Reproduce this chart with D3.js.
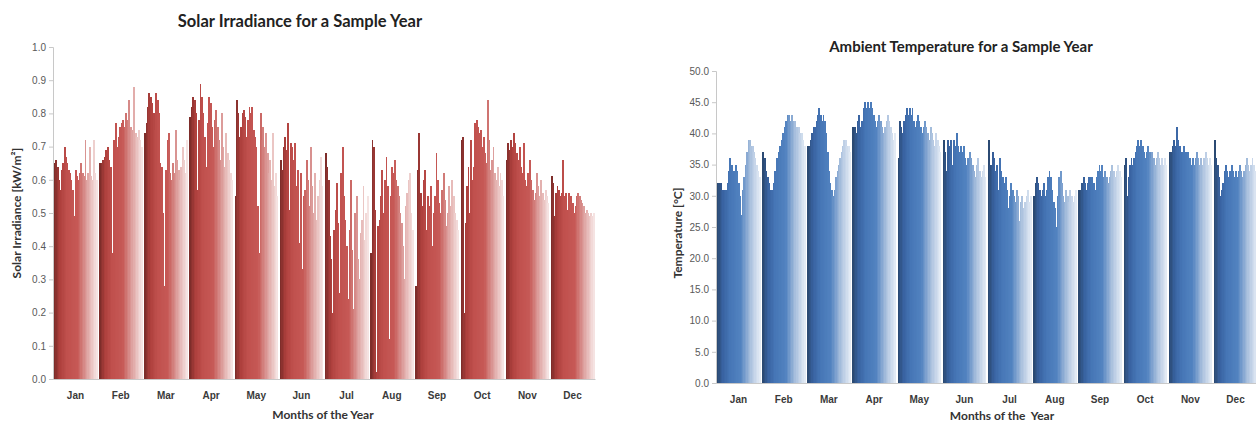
<!DOCTYPE html>
<html>
<head>
<meta charset="utf-8">
<script src="https://cdn.jsdelivr.net/npm/d3@7"></script>
<style>
  body { margin: 0; background: #fff; }
  svg { display: block; font-family: "Lato", "Open Sans", sans-serif; }
  .tick text { fill: #595959; }
  .month rect { shape-rendering: crispEdges; }
</style>
</head>
<body>
<svg id="chart" width="1256" height="425"></svg>
<script>
var months = ["Jan", "Feb", "Mar", "Apr", "May", "Jun", "Jul", "Aug", "Sep", "Oct", "Nov", "Dec"];

// daily solar irradiance, kW/m2
var solarJan = [0.65,0.66,0.64,0.60,0.57,0.63,0.65,0.70,0.67,0.65,0.63,0.62,0.60,0.57,0.49,0.63,0.61,0.60,0.62,0.65,0.62,0.61,0.72,0.60,0.62,0.70,0.61,0.60,0.72,0.62,0.60];
var solarFeb = [0.65,0.65,0.66,0.67,0.69,0.70,0.66,0.64,0.38,0.72,0.77,0.70,0.73,0.76,0.77,0.78,0.76,0.80,0.78,0.84,0.76,0.75,0.88,0.74,0.73,0.75,0.72,0.70];
var solarMar = [0.74,0.77,0.82,0.86,0.85,0.83,0.80,0.75,0.86,0.84,0.80,0.65,0.64,0.50,0.28,0.63,0.72,0.74,0.62,0.60,0.65,0.62,0.75,0.66,0.63,0.60,0.64,0.70,0.66,0.62,0.72];
var solarApr = [0.79,0.82,0.85,0.84,0.80,0.57,0.78,0.89,0.85,0.80,0.73,0.64,0.77,0.85,0.83,0.76,0.70,0.78,0.81,0.76,0.72,0.66,0.80,0.70,0.64,0.74,0.68,0.66,0.62,0.60];
var solarMay = [0.55,0.84,0.80,0.73,0.76,0.80,0.81,0.79,0.73,0.78,0.82,0.80,0.82,0.75,0.73,0.70,0.52,0.38,0.80,0.72,0.76,0.70,0.74,0.68,0.62,0.66,0.60,0.74,0.58,0.62,0.55];
var solarJun = [0.66,0.63,0.70,0.73,0.69,0.77,0.51,0.71,0.70,0.66,0.71,0.58,0.63,0.41,0.62,0.33,0.55,0.57,0.66,0.60,0.52,0.70,0.58,0.50,0.62,0.48,0.55,0.60,0.67,0.58];
var solarJul = [0.68,0.64,0.60,0.43,0.36,0.20,0.45,0.51,0.59,0.47,0.26,0.62,0.70,0.55,0.48,0.40,0.24,0.45,0.60,0.39,0.21,0.50,0.55,0.36,0.30,0.44,0.48,0.58,0.42,0.50,0.55];
var solarAug = [0.38,0.72,0.70,0.51,0.02,0.46,0.48,0.55,0.63,0.50,0.60,0.67,0.58,0.12,0.55,0.64,0.62,0.66,0.60,0.58,0.55,0.50,0.47,0.40,0.30,0.52,0.56,0.60,0.62,0.50,0.45];
var solarSep = [0.28,0.63,0.74,0.56,0.52,0.60,0.63,0.45,0.55,0.52,0.58,0.40,0.50,0.55,0.68,0.60,0.53,0.50,0.57,0.62,0.54,0.46,0.50,0.58,0.52,0.60,0.55,0.50,0.48,0.45];
var solarOct = [0.72,0.73,0.20,0.47,0.58,0.64,0.50,0.72,0.60,0.64,0.77,0.78,0.76,0.74,0.75,0.70,0.73,0.68,0.65,0.84,0.72,0.63,0.66,0.70,0.62,0.60,0.64,0.58,0.62,0.60,0.55];
var solarNov = [0.66,0.71,0.69,0.72,0.70,0.74,0.71,0.68,0.66,0.70,0.64,0.62,0.71,0.60,0.58,0.62,0.66,0.60,0.57,0.54,0.56,0.62,0.58,0.55,0.60,0.56,0.54,0.57,0.55,0.53];
var solarDec = [0.61,0.59,0.49,0.56,0.58,0.57,0.55,0.56,0.66,0.55,0.56,0.51,0.56,0.54,0.55,0.53,0.50,0.52,0.55,0.56,0.55,0.54,0.53,0.52,0.50,0.51,0.50,0.49,0.50,0.49,0.50];

// daily ambient temperature, deg C
var tempJan = [32,32,32,31,31,31,31,32,34,36,35,34,34,35,34,32,30,27,31,33,35,37,39,39,38,38,37,36,35,34,33];
var tempFeb = [37,36,34,33,32,31,31,32,34,36,37,38,39,40,41,42,43,43,42,43,42,42,41,41,40,40,39,38];
var tempMar = [38,38,39,40,41,41,42,43,44,43,42,43,42,40,37,34,32,31,30,31,33,34,35,36,37,38,39,39,38,38,37];
var tempApr = [41,41,40,42,43,41,42,44,45,44,45,44,45,44,43,42,41,42,43,42,41,40,41,42,43,42,41,40,39,40];
var tempMay = [36,42,41,40,42,43,44,43,44,43,44,42,41,42,43,42,41,40,41,42,41,40,39,41,40,39,38,40,39,38,37];
var tempJun = [39,37,34,39,38,39,35,39,38,40,38,37,38,37,38,36,35,36,37,36,35,34,33,35,36,34,33,34,35,33];
var tempJul = [39,35,35,37,36,34,35,31,36,34,33,32,33,31,28,30,32,31,30,29,31,30,26,29,30,28,29,30,31,29,30];
var tempAug = [30,32,33,32,31,30,31,32,30,31,33,34,33,31,29,28,25,30,33,34,32,30,29,31,30,29,31,30,29,30,31];
var tempSep = [31,31,32,33,32,31,32,33,33,33,32,31,33,34,35,34,35,33,34,33,32,33,34,35,34,33,34,35,34,33];
var tempOct = [35,36,30,33,35,36,35,36,37,38,39,38,39,38,37,36,37,38,37,36,37,36,35,36,37,36,35,36,35,36,35];
var tempNov = [37,37,38,39,38,41,39,38,37,37,38,37,36,37,36,35,36,35,36,37,36,35,36,35,36,37,36,35,36,35];
var tempDec = [39,36,35,33,30,31,32,34,35,34,33,34,35,34,33,34,33,34,35,34,33,34,35,36,35,34,35,36,35,34,35];

var solarTicks = [0, 0.1, 0.2, 0.3, 0.4, 0.5, 0.6, 0.7, 0.8, 0.9, 1.0];
var tempTicks = [0, 5, 10, 15, 20, 25, 30, 35, 40, 45, 50];

var solar = [solarJan, solarFeb, solarMar, solarApr, solarMay, solarJun, solarJul, solarAug, solarSep, solarOct, solarNov, solarDec];
var temp = [tempJan, tempFeb, tempMar, tempApr, tempMay, tempJun, tempJul, tempAug, tempSep, tempOct, tempNov, tempDec];

var svg = d3.select("#chart");

// colour across the days of a month: dark -> base -> pale
var redRamp = d3.scaleLinear()
    .domain([0, 0.12, 0.3, 0.55, 0.78, 1])
    .range(["#7e2d2a", "#ad3f3c", "#c0504d", "#c65956", "#dea3a1", "#f5e3e2"]);
var blueRamp = d3.scaleLinear()
    .domain([0, 0.12, 0.3, 0.55, 0.78, 1])
    .range(["#2b4a73", "#3862a0", "#4676b6", "#5283c0", "#a8bfdd", "#e2eaf4"]);

function drawPanel(cfg) {
  var x = d3.scaleBand()
      .domain(months)
      .range([cfg.left, cfg.right])
      .paddingInner(0.045)
      .paddingOuter(0.02);

  var y = d3.scaleLinear()
      .domain([cfg.ticks[0], cfg.ticks[cfg.ticks.length - 1]])
      .range([cfg.bottom, cfg.top]);

  var g = svg.append("g");

  // bars, one group per month
  var groups = g.selectAll(".month")
      .data(cfg.data)
    .enter().append("g")
      .attr("class", "month");

  groups.each(function(vals, mi) {
    var inner = d3.scaleBand()
        .domain(d3.range(vals.length))
        .range([x(months[mi]), x(months[mi]) + x.bandwidth()]);
    d3.select(this).selectAll("rect")
        .data(vals)
      .enter().append("rect")
        .attr("x", function(d, i) { return inner(i); })
        .attr("width", inner.bandwidth() + 0.5)
        .attr("y", function(d) { return y(d); })
        .attr("height", function(d) { return y(0) - y(d); })
        .attr("fill", function(d, i) { return cfg.ramp(i / (vals.length - 1)); });
  });

  // y axis
  var yAxis = d3.axisLeft(y)
      .tickValues(cfg.ticks)
      .tickFormat(d3.format(".1f"))
      .tickSize(4)
      .tickPadding(3);

  var ya = g.append("g")
      .attr("transform", "translate(" + cfg.left + ",0)")
      .call(yAxis);
  ya.select(".domain").attr("stroke", "#c8c8c8");
  ya.selectAll(".tick line").attr("stroke", "#c8c8c8");
  ya.selectAll(".tick text").style("font-size", "10px");

  // x axis
  var xa = g.append("g")
      .attr("transform", "translate(0," + cfg.bottom + ")")
      .call(d3.axisBottom(x).tickSize(0).tickPadding(cfg.xPad).tickSizeOuter(0));
  xa.select(".domain").attr("stroke", "#c8c8c8");
  xa.selectAll(".tick text")
      .style("font-size", "10px")
      .style("font-weight", "bold")
      .style("fill", "#3a3a3a");

  // titles
  g.append("text")
      .attr("x", cfg.titleX)
      .attr("y", cfg.titleY)
      .attr("text-anchor", "middle")
      .style("font-size", cfg.titleSize)
      .style("font-weight", "bold")
      .style("fill", "#222")
      .text(cfg.title);

  g.append("text")
      .attr("x", cfg.xLabelX)
      .attr("y", cfg.xLabelY)
      .attr("text-anchor", "middle")
      .style("font-size", "12px")
      .style("font-weight", "bold")
      .style("fill", "#333")
      .style("white-space", "pre")
      .text(cfg.xLabel);

  g.append("text")
      .attr("transform", "translate(" + cfg.yLabelX + "," + cfg.yLabelY + ") rotate(-90)")
      .attr("text-anchor", "middle")
      .style("font-size", "12px")
      .style("font-weight", "bold")
      .style("fill", "#333")
      .text(cfg.yLabel);
}

drawPanel({
  data: solar, ticks: solarTicks, ramp: redRamp,
  left: 53, right: 595, top: 47, bottom: 379, xPad: 13,
  title: "Solar Irradiance for a Sample Year", titleX: 300, titleY: 27, titleSize: "16.5px",
  xLabel: "Months of the Year", xLabelX: 323, xLabelY: 419,
  yLabel: "Solar Irradiance [kW/m\u00b2]", yLabelX: 21, yLabelY: 213
});

drawPanel({
  data: temp, ticks: tempTicks, ramp: blueRamp,
  left: 716, right: 1258, top: 71, bottom: 383, xPad: 13,
  title: "Ambient Temperature for a Sample Year", titleX: 961, titleY: 52, titleSize: "15px",
  xLabel: "Months of the  Year", xLabelX: 1002, xLabelY: 420,
  yLabel: "Temperature [\u00b0C]", yLabelX: 682, yLabelY: 233
});
</script>
</body>
</html>
